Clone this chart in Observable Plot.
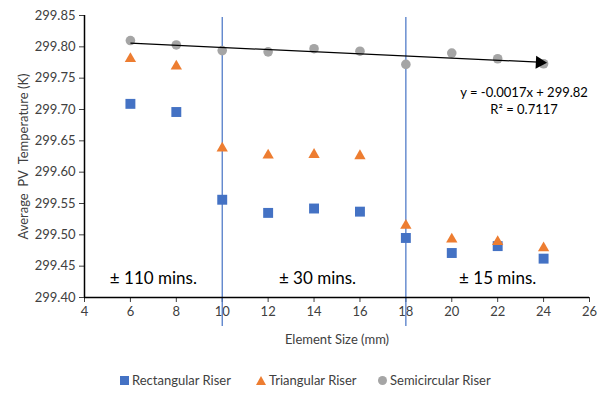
<!DOCTYPE html>
<html><head><meta charset="utf-8">
<script src="https://cdn.jsdelivr.net/npm/d3@7"></script>
<script src="https://cdn.jsdelivr.net/npm/@observablehq/plot@0.6"></script>
<style>
body{margin:0;background:#fff;font-family:Lato,sans-serif;}
#wrap{position:relative;width:597px;height:393px;}
#legend{position:absolute;left:0;top:370px;width:597px;height:20px;font-size:13px;color:#404040;}
.li{position:absolute;top:0;display:flex;align-items:center;gap:3px;height:20px;}
</style></head><body><div id="wrap"><div id="chart"></div><div id="legend"></div></div>
<script>
const sizes = [6, 8, 10, 12, 14, 16, 18, 20, 22, 24];
const rectangular = [299.709, 299.696, 299.556, 299.535, 299.542, 299.537, 299.495, 299.471, 299.482, 299.462];
const triangular  = [299.781, 299.769, 299.638, 299.627, 299.628, 299.626, 299.515, 299.493, 299.489, 299.479];
const semicircular= [299.810, 299.803, 299.794, 299.792, 299.797, 299.793, 299.772, 299.790, 299.781, 299.773];
const seriesNames = ["Rectangular Riser", "Triangular Riser", "Semicircular Riser"];
const seriesColors = ["#4472C4", "#ED7D31", "#A5A5A5"];
const trendSlope = -0.0017, trendIntercept = 299.816;
const trendRange = [6, 24];
const trendLabels = ["y = -0.0017x + 299.82", "R² = 0.7117"];
const trendLabelX = [23.15, 23.15];
const trendLabelY = [299.726, 299.700];
const dividers = [10, 18];
const zoneLabels = ["± 110 mins.", "± 30 mins.", "± 15 mins."];
const zoneX = [7, 14.15, 22];
const zoneY = 299.43;
const xTicks = [4,6,8,10,12,14,16,18,20,22,24,26];
const yTicks = [299.40,299.45,299.50,299.55,299.60,299.65,299.70,299.75,299.80,299.85];

const rows = (vals) => sizes.map((x,i)=>({x, y: vals[i]}));
const trend = [{x1: trendRange[0], y1: trendSlope*trendRange[0]+trendIntercept, x2: trendRange[1], y2: trendSlope*trendRange[1]+trendIntercept}];
const zones = zoneLabels.map((t,i)=>({t, x: zoneX[i], y: zoneY}));
const eq = trendLabels.map((t,i)=>({t, x: trendLabelX[i], y: trendLabelY[i]}));

const chart = Plot.plot({
  width: 597, height: 360,
  marginLeft: 84, marginRight: 8, marginTop: 15, marginBottom: 63,
  style: {fontFamily: "Lato, sans-serif", fontSize: "13px", color: "#404040", background: "#fff", overflow: "visible"},
  x: {domain: [4, 26], ticks: xTicks, tickSize: 5, tickPadding: 4, label: "Element Size (mm)", labelAnchor: "center", labelArrow: "none", labelOffset: 46},
  y: {domain: [299.40, 299.85], ticks: yTicks, tickFormat: d3.format(".2f"), tickSize: 5, tickPadding: 4, label: "Average  PV  Temperature (K)", labelAnchor: "center", labelArrow: "none", labelOffset: 66},
  marks: [
    Plot.ruleX(dividers, {stroke: "#4472C4", strokeWidth: 1.2, insetTop: 2, insetBottom: -29}),
    Plot.ruleY([299.40], {stroke: "#000", strokeWidth: 1.5}),
    Plot.ruleX([4], {stroke: "#000", strokeWidth: 1.5}),
    Plot.dot(rows(rectangular), {x: "x", y: "y", symbol: "square", r: 5.6, fill: seriesColors[0]}),
    Plot.dot(rows(triangular), {x: "x", y: "y", symbol: "triangle", r: 4.2, fill: seriesColors[1]}),
    Plot.dot(rows(semicircular), {x: "x", y: "y", symbol: "circle", r: 4.8, fill: seriesColors[2]}),
    Plot.link(trend, {x1: "x1", y1: "y1", x2: "x2", y2: "y2", stroke: "#000", strokeWidth: 1.2}),
    Plot.dot(trend, {x: "x2", y: "y2", symbol: "triangle", r: 4.8, fill: "#000", rotate: 92.7, dx: -4}),
    Plot.text(eq, {x: "x", y: "y", text: "t", fontSize: 13, fill: "#000", textAnchor: "middle"}),
    Plot.text(zones, {x: "x", y: "y", text: "t", fontSize: 17, fill: "#000"})
  ]
});
document.getElementById("chart").append(chart);

const legendX = [120, 256, 378];
const legendSym = [
  `<svg width="9" height="9"><rect width="9" height="9" fill="${seriesColors[0]}"/></svg>`,
  `<svg width="10" height="9"><polygon points="5,0 10,9 0,9" fill="${seriesColors[1]}"/></svg>`,
  `<svg width="9" height="9"><circle cx="4.5" cy="4.5" r="4.5" fill="${seriesColors[2]}"/></svg>`
];
const lg = document.getElementById("legend");
seriesNames.forEach((n,i)=>{
  const d = document.createElement("div");
  d.className = "li"; d.style.left = legendX[i] + "px";
  d.innerHTML = legendSym[i] + `<span>${n}</span>`;
  lg.append(d);
});
</script></body></html>
